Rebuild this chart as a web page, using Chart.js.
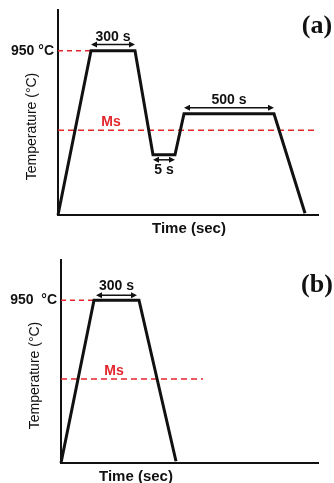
<!DOCTYPE html>
<html>
<head>
<meta charset="utf-8">
<script src="https://cdn.jsdelivr.net/npm/chart.js@4.4.1/dist/chart.umd.min.js"></script>
<style>
  body { margin: 0; background: #fff; }
  canvas { display: block; }
</style>
</head>
<body>
<canvas id="grafico-a" width="334" height="240"></canvas>
<canvas id="grafico-b" width="334" height="243"></canvas>
<script>
/* Datos del tratamiento (a): tiempo en unidades arbitrarias, temperatura en °C */
var tiempoA = [0, 33, 77, 95, 117, 126, 216, 247];
var tempA = [0, 950, 950, 348, 348, 585, 585, 10];

/* Datos del tratamiento (b) */
var tiempoB = [0, 33, 78, 115];
var tempB = [0, 950, 950, 10];

var temperaturaAust = 950;   // 950 °C
var temperaturaMs = 490;     // Ms
var finMsA = 260;
var finMsB = 142;

/* Anotaciones con flechas: [desde, hasta, temp flecha, temp texto, texto] */
var flechasA = [
    [33, 77, 985, 1031, '300 s'],
    [126, 216, 620, 666, '500 s'],
    [95, 117, 319, 261, '5 s']
];
var flechasB = [
    [35, 76, 979, 1032, '300 s']
];

var rojo = '#e2262b';
var fuente = '"Liberation Sans", Arial, sans-serif';

function puntos(xs, ys) {
    return xs.map(function (x, i) { return { x: x, y: ys[i] }; });
}

function flecha(ctx, x1, x2, y) {
    ctx.beginPath();
    ctx.moveTo(x1 + 2, y);
    ctx.lineTo(x2 - 2, y);
    ctx.stroke();
    ctx.beginPath();
    ctx.moveTo(x1, y); ctx.lineTo(x1 + 6, y - 3); ctx.lineTo(x1 + 6, y + 3); ctx.closePath();
    ctx.moveTo(x2, y); ctx.lineTo(x2 - 6, y - 3); ctx.lineTo(x2 - 6, y + 3); ctx.closePath();
    ctx.fill();
}

function crearGrafico(id, tiempos, temps, finMs, flechas, etiqueta, textoAust, msX, msY, tituloX, ejeMax, padding) {
    var marco = document.getElementById(id).getContext('2d');

    var textos = {
        id: 'textos',
        afterDatasetsDraw: function (chart) {
            var ctx = chart.ctx;
            var sx = chart.scales.x, sy = chart.scales.y;
            var area = chart.chartArea;
            ctx.save();
            ctx.fillStyle = '#111';
            ctx.strokeStyle = '#111';
            ctx.lineWidth = 1.5;
            ctx.textAlign = 'center';
            ctx.textBaseline = 'middle';
            ctx.font = 'bold 14px ' + fuente;
            flechas.forEach(function (f) {
                var y = sy.getPixelForValue(f[2]);
                flecha(ctx, sx.getPixelForValue(f[0]), sx.getPixelForValue(f[1]), y);
                ctx.fillText(f[4], (sx.getPixelForValue(f[0]) + sx.getPixelForValue(f[1])) / 2, sy.getPixelForValue(f[3]));
            });
            // 950 °C
            ctx.textAlign = 'right';
            ctx.fillText(textoAust, area.left - 4, sy.getPixelForValue(temperaturaAust));
            // Ms
            ctx.textAlign = 'center';
            ctx.fillStyle = rojo;
            ctx.fillText('Ms', sx.getPixelForValue(msX), sy.getPixelForValue(msY));
            // Ejes
            ctx.fillStyle = '#111';
            ctx.font = 'bold 15px ' + fuente;
            ctx.fillText('Time (sec)', sx.getPixelForValue(tituloX), area.bottom + 14);
            ctx.save();
            ctx.translate(area.left - 26, (area.top + area.bottom) / 2 + 14);
            ctx.rotate(-Math.PI / 2);
            ctx.font = '14px ' + fuente;
            ctx.fillText('Temperature (°C)', 0, 0);
            ctx.restore();
            // (a) / (b)
            ctx.font = 'bold 26px "Liberation Serif", "Times New Roman", serif';
            ctx.fillText(etiqueta, chart.width - 17, area.top + 16 + (etiqueta === '(b)' ? 9 : 0));
            ctx.restore();
        }
    };

    return new Chart(marco, {
        type: 'line',
        data: {
            datasets: [{
                data: puntos(tiempos, temps),
                borderColor: '#111',
                borderWidth: 3,
                borderJoinStyle: 'miter',
                pointRadius: 0,
                clip: false,
                order: 0
            }, {
                data: puntos([0, finMs], [temperaturaMs, temperaturaMs]),
                borderColor: rojo,
                borderWidth: 1.5,
                borderDash: [6, 4],
                pointRadius: 0,
                order: 1
            }, {
                data: puntos([0, tiempos[1]], [temperaturaAust, temperaturaAust]),
                borderColor: rojo,
                borderWidth: 1.5,
                borderDash: [5, 4],
                pointRadius: 0,
                order: 1
            }]
        },
        options: {
            responsive: false,
            animation: false,
            layout: { padding: padding },
            plugins: { legend: { display: false }, tooltip: { enabled: false } },
            scales: {
                x: {
                    type: 'linear',
                    min: 0,
                    max: ejeMax,
                    grid: { display: false, drawTicks: false },
                    ticks: { display: false },
                    border: { display: true, color: '#111', width: 2 }
                },
                y: {
                    min: 0,
                    max: 1185,
                    grid: { display: false, drawTicks: false },
                    ticks: { display: false },
                    border: { display: true, color: '#111', width: 2 }
                }
            }
        },
        plugins: [textos]
    });
}

crearGrafico('grafico-a', tiempoA, tempA, finMsA, flechasA, '(a)', '950 °C', 53, 539, 131, 260,
    { left: 58, top: 10, right: 16, bottom: 25 });
crearGrafico('grafico-b', tiempoB, tempB, finMsB, flechasB, '(b)', '950  °C', 53, 536, 75, 257,
    { left: 61, top: 20, right: 16, bottom: 20 });
</script>
</body>
</html>
